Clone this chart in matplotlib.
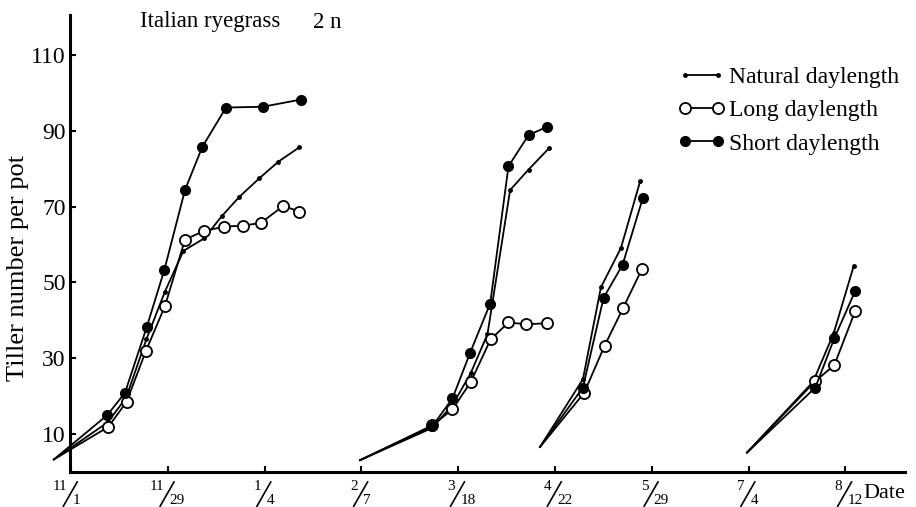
import numpy as np
import matplotlib.pyplot as plt
import matplotlib.transforms as mtransforms
from matplotlib.lines import Line2D

plt.rcParams['font.family'] = ['Liberation Serif', 'DejaVu Serif']

# x positions are in "tick units": 0 = 11/1, 1 = 11/29, ... 8 = 8/12 (ticks evenly spaced)
date_labels = [("11", "1"), ("11", "29"), ("1", "4"), ("2", "7"), ("3", "18"),
               ("4", "22"), ("5", "29"), ("7", "4"), ("8", "12")]
y_ticks = [10, 30, 50, 70, 90, 110]

# one list per sowing; first point of each is the common starting point (no marker)
nat_x = [[-0.176, 0.38, 0.57, 0.78, 0.97, 1.161, 1.375, 1.558, 1.740, 1.946, 2.143, 2.360],
         [2.987, 3.73, 3.94, 4.13, 4.303, 4.537, 4.727, 4.937],
         [4.846, 5.289, 5.475, 5.682, 5.881],
         [6.984, 7.666, 7.879, 8.086]]
nat_y = [[3.2, 13.0, 19.5, 35.0, 47.5, 58.3, 61.6, 67.5, 72.6, 77.5, 81.9, 85.7],
         [3.0, 11.5, 17.5, 26.0, 36.3, 74.4, 79.8, 85.4],
         [6.5, 24.4, 48.7, 59.1, 76.8],
         [5.0, 23.7, 36.5, 54.3]]

long_x = [[-0.176, 0.386, 0.574, 0.775, 0.972, 1.178, 1.375, 1.584, 1.781, 1.961, 2.194, 2.360],
          [2.987, 3.734, 3.941, 4.131, 4.335, 4.520, 4.704, 4.917],
          [4.846, 5.302, 5.512, 5.702, 5.898],
          [6.984, 7.690, 7.886, 8.103]]
long_y = [[3.2, 11.8, 18.4, 31.9, 43.8, 61.3, 63.6, 64.7, 65.0, 65.7, 70.2, 68.7],
          [3.0, 12.2, 16.4, 23.7, 34.9, 39.4, 38.9, 39.2],
          [6.5, 20.8, 33.2, 43.1, 53.5],
          [5.0, 23.9, 28.1, 42.5]]

short_x = [[-0.176, 0.375, 0.558, 0.782, 0.964, 1.178, 1.357, 1.602, 1.981, 2.374],
           [2.987, 3.734, 3.941, 4.124, 4.331, 4.520, 4.727, 4.917],
           [4.846, 5.289, 5.502, 5.698, 5.909],
           [6.984, 7.690, 7.886, 8.103]]
short_y = [[3.2, 14.9, 20.8, 38.1, 53.2, 74.4, 85.8, 96.2, 96.4, 98.3],
           [3.0, 12.0, 19.3, 31.4, 44.4, 80.7, 88.9, 91.1],
           [6.5, 22.2, 45.9, 54.6, 72.4],
           [5.0, 22.2, 35.2, 47.8]]

fig = plt.figure(figsize=(9.16, 5.07), dpi=100)
ax = fig.add_axes([0.0764, 0.070, 0.912, 0.900])

styles = {
    'nat': dict(marker='o', ms=2.5, mfc='black', mec='black', zorder=3),
    'long': dict(marker='o', ms=8, mfc='white', mec='black', mew=1.3, zorder=4),
    'short': dict(marker='o', ms=7, mfc='black', mec='black', zorder=5),
}

for xs, ys, key in [(nat_x, nat_y, 'nat'), (long_x, long_y, 'long'), (short_x, short_y, 'short')]:
    for x, y in zip(xs, ys):
        ax.plot(x, y, color='black', lw=1.3, markevery=slice(1, None),
                clip_on=False, **styles[key])

ax.set_xlim(-0.01, 8.62)
ax.set_ylim(0, 120.6)

for s in ['top', 'right']:
    ax.spines[s].set_visible(False)
ax.spines['left'].set_linewidth(2.2)
ax.spines['bottom'].set_linewidth(2.2)

ax.set_yticks(y_ticks)
ax.set_yticklabels([str(t) for t in y_ticks], fontsize=17)
ax.set_xticks(range(len(date_labels)))
ax.set_xticklabels([])
ax.tick_params(axis='both', direction='in', length=4, width=1.5, pad=3)

# date labels drawn as slanted fractions: numerator, slash line, denominator
pt = mtransforms.Affine2D().scale(fig.dpi / 72.0)
for i, (num, den) in enumerate(date_labels):
    ax.annotate(num, (i, 0), xytext=(-2.5, -11), textcoords='offset points',
                ha='right', va='center', fontsize=11, annotation_clip=False)
    ax.annotate(den, (i, 0), xytext=(1.5, -21), textcoords='offset points',
                ha='left', va='center', fontsize=11, annotation_clip=False)
    slash = Line2D([-5.5, 4.5], [-25, -7.5], color='black', lw=1.2, clip_on=False,
                   transform=pt + mtransforms.ScaledTranslation(i, 0, ax.transData))
    ax.add_line(slash)

fig.text(18 / 916, 1 - 268 / 507, 'Tiller number per pot', fontsize=19,
         rotation=90, va='center', ha='center')
fig.text(140 / 916, 1 - 22 / 507, 'Italian ryegrass', fontsize=16.5, va='center', ha='left')
fig.text(313 / 916, 1 - 22 / 507, '2 n', fontsize=16.5, va='center', ha='left')
fig.text(863 / 916, 1 - 494 / 507, 'Date', fontsize=16, va='center', ha='left')

handles = [Line2D([], [], color='black', lw=1.3, **styles['nat']),
           Line2D([], [], color='black', lw=1.3, **styles['long']),
           Line2D([], [], color='black', lw=1.3, **styles['short'])]
fig.legend(handles, ['Natural daylength', 'Long daylength', 'Short daylength'],
           loc='upper left', bbox_to_anchor=(668 / 916, 1 - 57 / 507), frameon=False,
           fontsize=17, numpoints=2, handlelength=2.0, handletextpad=0.2,
           labelspacing=0.5, borderaxespad=0)

fig.savefig('out.png', dpi=100)
